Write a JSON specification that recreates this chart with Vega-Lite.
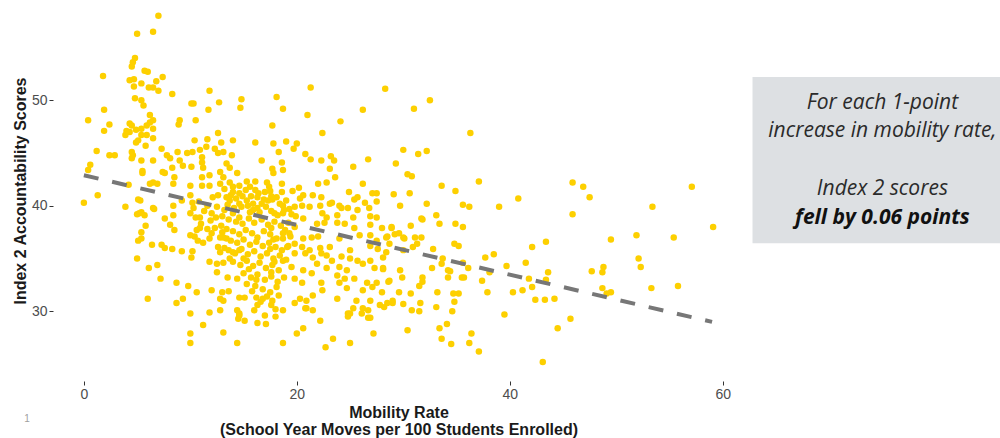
{"$schema":"https://vega.github.io/schema/vega-lite/v6.json","width":691,"height":381,"autosize":{"type":"none"},"padding":{"left":53,"top":0,"right":256,"bottom":57},"background":"#ffffff","config":{"view":{"stroke":null},"axis":{"grid":false,"domain":false,"tickColor":"#333333","tickSize":4,"tickWidth":1,"labelColor":"#4d4d4d","labelFont":"Liberation Sans","labelFontSize":14,"labelPadding":2,"titleFont":"Liberation Sans","titleFontSize":16,"titleFontWeight":"bold","titleColor":"#1a1a1a"}},
"datasets":{"fit":[{"mobility":0,"score":42.9},{"mobility":59,"score":29.0}],
"schools":[
{"mobility":0.0,"score":40.3},{"mobility":0.4,"score":43.4},{"mobility":0.6,"score":43.9},{"mobility":0.4,"score":48.1},{"mobility":1.2,"score":45.2},{"mobility":1.3,"score":41.0},{"mobility":1.8,"score":52.3},{"mobility":1.9,"score":49.1},{"mobility":1.9,"score":47.1},{"mobility":2.4,"score":47.7},{"mobility":2.4,"score":44.8},{"mobility":2.9,"score":44.8},{"mobility":3.9,"score":39.9},{"mobility":3.9,"score":46.7},{"mobility":4.0,"score":47.1},{"mobility":4.3,"score":47.8},{"mobility":4.5,"score":47.6},{"mobility":4.2,"score":42.0},{"mobility":4.5,"score":45.1},{"mobility":4.6,"score":44.8},{"mobility":4.5,"score":44.5},{"mobility":4.9,"score":46.0},{"mobility":4.9,"score":47.2},{"mobility":5.1,"score":46.2},{"mobility":5.1,"score":40.6},{"mobility":5.2,"score":39.3},{"mobility":5.0,"score":39.2},{"mobility":5.1,"score":36.7},{"mobility":5.0,"score":35.0},{"mobility":5.4,"score":46.7},{"mobility":5.4,"score":47.3},{"mobility":5.4,"score":44.3},{"mobility":5.5,"score":43.3},{"mobility":5.4,"score":39.4},{"mobility":5.3,"score":40.5},{"mobility":5.4,"score":36.9},{"mobility":5.4,"score":37.5},{"mobility":5.5,"score":43.1},
{"mobility":7.0,"score":58.0},{"mobility":5.0,"score":56.3},{"mobility":6.5,"score":56.5},{"mobility":4.6,"score":53.6},{"mobility":4.8,"score":54.0},{"mobility":4.5,"score":53.2},{"mobility":5.7,"score":52.8},{"mobility":6.0,"score":52.7},{"mobility":4.3,"score":51.9},{"mobility":4.7,"score":52.0},{"mobility":5.4,"score":51.6},{"mobility":6.8,"score":51.8},{"mobility":7.4,"score":52.2},{"mobility":4.7,"score":51.3},{"mobility":6.1,"score":51.2},{"mobility":6.5,"score":51.2},{"mobility":7.0,"score":50.9},{"mobility":8.3,"score":50.6},{"mobility":4.8,"score":50.2},{"mobility":5.4,"score":50.0},{"mobility":5.6,"score":49.5},{"mobility":6.2,"score":48.6},{"mobility":6.5,"score":48.1},{"mobility":6.5,"score":47.3},{"mobility":5.9,"score":47.6},{"mobility":6.2,"score":47.9},{"mobility":5.8,"score":45.7},{"mobility":5.9,"score":46.7},{"mobility":4.3,"score":47.0},{"mobility":6.5,"score":46.4},{"mobility":6.5,"score":44.3},{"mobility":6.2,"score":42.1},{"mobility":6.5,"score":42.2},{"mobility":6.9,"score":42.1},{"mobility":6.6,"score":39.7},{"mobility":5.7,"score":39.1},{"mobility":6.5,"score":39.8},{"mobility":5.8,"score":38.1},{"mobility":6.4,"score":36.3},{"mobility":6.1,"score":34.1},{"mobility":6.9,"score":34.4},{"mobility":7.2,"score":33.1},{"mobility":6.0,"score":31.2},{"mobility":7.3,"score":36.3},{"mobility":7.6,"score":36.0},{"mobility":8.3,"score":35.9},{"mobility":9.2,"score":35.7},{"mobility":8.7,"score":32.7},{"mobility":9.8,"score":32.4},{"mobility":8.7,"score":30.8},{"mobility":9.3,"score":31.2},
{"mobility":11.8,"score":50.9},{"mobility":10.1,"score":49.7},{"mobility":10.3,"score":49.7},{"mobility":12.7,"score":49.8},{"mobility":14.8,"score":50.1},{"mobility":14.7,"score":49.3},{"mobility":18.1,"score":50.3},{"mobility":18.7,"score":49.2},{"mobility":21.3,"score":51.2},{"mobility":28.3,"score":51.1},{"mobility":26.2,"score":49.1},{"mobility":21.0,"score":48.6},{"mobility":24.1,"score":48.0},{"mobility":22.4,"score":46.9},{"mobility":9.0,"score":48.1},{"mobility":8.9,"score":47.7},{"mobility":10.5,"score":48.1},{"mobility":11.7,"score":49.1},{"mobility":12.6,"score":46.9},{"mobility":17.7,"score":47.6},{"mobility":16.1,"score":46.0},{"mobility":19.0,"score":46.1},{"mobility":20.0,"score":45.9},{"mobility":19.7,"score":45.4},{"mobility":18.3,"score":45.1},{"mobility":17.8,"score":45.9},{"mobility":20.8,"score":44.9},{"mobility":21.3,"score":44.4},{"mobility":22.3,"score":44.3},{"mobility":23.2,"score":44.7},{"mobility":23.5,"score":44.3},{"mobility":25.3,"score":43.7},{"mobility":26.7,"score":44.4},{"mobility":18.6,"score":44.1},{"mobility":17.7,"score":43.5},{"mobility":18.7,"score":43.4},{"mobility":17.8,"score":43.1},{"mobility":23.1,"score":43.5},{"mobility":23.6,"score":42.7},{"mobility":22.8,"score":42.2},{"mobility":22.0,"score":42.1},{"mobility":18.6,"score":42.1},{"mobility":26.2,"score":42.1},{"mobility":17.5,"score":41.4},{"mobility":18.6,"score":41.3},{"mobility":19.6,"score":41.4},{"mobility":20.2,"score":41.7},{"mobility":24.9,"score":41.3},{"mobility":27.1,"score":41.2},{"mobility":27.5,"score":41.2},{"mobility":17.6,"score":40.9},{"mobility":17.7,"score":40.6},{"mobility":20.3,"score":40.7},{"mobility":20.6,"score":41.0},{"mobility":21.5,"score":41.0},{"mobility":22.3,"score":40.8},{"mobility":23.3,"score":40.3},{"mobility":24.0,"score":40.0},{"mobility":25.7,"score":40.8},{"mobility":25.4,"score":40.6},{"mobility":26.4,"score":40.3},{"mobility":27.5,"score":40.4},{"mobility":18.7,"score":40.0},{"mobility":19.8,"score":39.9},{"mobility":20.5,"score":40.0},{"mobility":21.2,"score":39.9},{"mobility":22.2,"score":40.0},{"mobility":23.1,"score":40.2},{"mobility":24.2,"score":39.8},{"mobility":24.8,"score":39.8},{"mobility":25.7,"score":39.6},{"mobility":26.8,"score":39.8},{"mobility":17.9,"score":39.3},{"mobility":18.7,"score":39.3},{"mobility":19.9,"score":39.0},{"mobility":20.6,"score":38.8},{"mobility":22.4,"score":39.3},{"mobility":22.8,"score":38.9},{"mobility":23.8,"score":39.1},{"mobility":25.3,"score":38.9},{"mobility":26.9,"score":39.0},{"mobility":27.5,"score":38.9},
{"mobility":10.4,"score":46.2},{"mobility":11.6,"score":46.3},{"mobility":12.9,"score":46.0},{"mobility":14.0,"score":46.2},{"mobility":7.3,"score":45.4},{"mobility":8.8,"score":45.1},{"mobility":9.7,"score":45.0},{"mobility":10.2,"score":45.1},{"mobility":10.9,"score":45.3},{"mobility":11.5,"score":45.6},{"mobility":12.3,"score":45.4},{"mobility":12.6,"score":45.0},{"mobility":13.1,"score":45.1},{"mobility":13.9,"score":44.8},{"mobility":7.8,"score":44.8},{"mobility":8.1,"score":44.5},{"mobility":9.0,"score":44.3},{"mobility":11.1,"score":44.6},{"mobility":11.1,"score":44.1},{"mobility":16.7,"score":44.3},{"mobility":13.4,"score":44.0},{"mobility":13.7,"score":43.6},{"mobility":12.8,"score":43.2},{"mobility":11.2,"score":43.6},{"mobility":10.1,"score":43.7},{"mobility":9.3,"score":43.8},{"mobility":8.3,"score":43.6},{"mobility":7.6,"score":43.1},{"mobility":7.4,"score":43.2},{"mobility":11.1,"score":42.7},{"mobility":11.8,"score":42.9},{"mobility":14.4,"score":43.1},{"mobility":15.3,"score":42.3},{"mobility":16.1,"score":42.3},{"mobility":17.2,"score":42.2},{"mobility":8.5,"score":42.7},{"mobility":8.4,"score":42.1},{"mobility":10.0,"score":41.9},{"mobility":11.1,"score":41.9},{"mobility":11.8,"score":41.9},{"mobility":12.8,"score":42.1},{"mobility":13.1,"score":42.7},{"mobility":13.7,"score":42.2},{"mobility":14.0,"score":41.8},{"mobility":14.6,"score":41.9},{"mobility":14.0,"score":41.3},{"mobility":14.6,"score":41.2},{"mobility":13.4,"score":40.8},{"mobility":13.7,"score":40.5},{"mobility":15.6,"score":41.8},{"mobility":16.1,"score":41.5},{"mobility":16.3,"score":40.8},{"mobility":17.0,"score":41.3},{"mobility":16.7,"score":40.2},{"mobility":17.3,"score":40.5},{"mobility":15.9,"score":40.2},{"mobility":15.3,"score":40.5},{"mobility":14.6,"score":40.2},{"mobility":10.0,"score":41.0},{"mobility":9.2,"score":40.5},{"mobility":10.2,"score":40.3},{"mobility":12.1,"score":40.8},{"mobility":12.6,"score":41.0},{"mobility":11.6,"score":40.0},{"mobility":12.5,"score":39.9},{"mobility":13.2,"score":39.6},{"mobility":14.0,"score":39.3},{"mobility":14.6,"score":38.9},{"mobility":15.6,"score":39.4},{"mobility":16.3,"score":39.8},{"mobility":8.4,"score":40.0},{"mobility":10.0,"score":39.3},{"mobility":10.9,"score":38.9},{"mobility":12.0,"score":39.3},{"mobility":8.4,"score":39.1},{"mobility":7.6,"score":38.8},
{"mobility":8.1,"score":38.2},{"mobility":8.5,"score":37.7},{"mobility":10.0,"score":37.2},{"mobility":10.6,"score":37.7},{"mobility":10.4,"score":37.1},{"mobility":10.7,"score":36.7},{"mobility":11.2,"score":36.5},{"mobility":12.0,"score":37.4},{"mobility":11.8,"score":36.9},{"mobility":12.8,"score":37.0},{"mobility":13.0,"score":37.5},{"mobility":13.4,"score":36.9},{"mobility":10.2,"score":35.7},{"mobility":10.1,"score":35.1},{"mobility":12.6,"score":36.1},{"mobility":13.2,"score":36.0},{"mobility":12.8,"score":35.6},{"mobility":14.0,"score":35.6},{"mobility":14.6,"score":35.8},{"mobility":13.7,"score":35.0},{"mobility":13.1,"score":34.6},{"mobility":11.8,"score":34.7},{"mobility":12.5,"score":34.5},{"mobility":12.5,"score":33.7},{"mobility":13.5,"score":33.2},{"mobility":12.0,"score":32.0},{"mobility":13.0,"score":31.8},{"mobility":13.6,"score":31.9},{"mobility":13.1,"score":31.0},{"mobility":12.8,"score":31.2},{"mobility":10.6,"score":31.8},{"mobility":14.6,"score":31.3},{"mobility":15.1,"score":31.3},{"mobility":16.2,"score":31.3},{"mobility":16.8,"score":31.2},{"mobility":12.8,"score":30.1},{"mobility":14.4,"score":30.1},{"mobility":14.6,"score":29.6},{"mobility":16.3,"score":30.6},
{"mobility":10.0,"score":29.8},{"mobility":10.0,"score":27.0},{"mobility":10.0,"score":27.9},{"mobility":11.2,"score":28.7},{"mobility":11.8,"score":29.9},{"mobility":13.1,"score":28.0},{"mobility":14.4,"score":27.0},{"mobility":14.6,"score":29.8},{"mobility":14.5,"score":29.3},{"mobility":15.1,"score":29.1},{"mobility":16.3,"score":28.9},{"mobility":17.1,"score":28.8},{"mobility":18.7,"score":27.0},{"mobility":20.0,"score":27.9},{"mobility":18.7,"score":30.1},{"mobility":20.6,"score":28.4},{"mobility":20.9,"score":30.3},{"mobility":22.2,"score":29.1},{"mobility":22.7,"score":26.6},{"mobility":23.4,"score":27.4},{"mobility":25.0,"score":27.0},{"mobility":24.8,"score":29.8},{"mobility":26.1,"score":29.8},{"mobility":26.7,"score":29.4},{"mobility":27.2,"score":27.9},{"mobility":27.8,"score":30.6},
{"mobility":21.9,"score":38.3},{"mobility":22.6,"score":38.4},{"mobility":23.8,"score":38.4},{"mobility":24.5,"score":38.3},{"mobility":25.4,"score":37.9},{"mobility":26.9,"score":38.2},{"mobility":28.0,"score":37.9},{"mobility":28.9,"score":37.9},{"mobility":18.9,"score":37.7},{"mobility":19.3,"score":37.4},{"mobility":18.7,"score":36.9},{"mobility":19.8,"score":36.4},{"mobility":20.6,"score":36.9},{"mobility":21.4,"score":37.0},{"mobility":22.0,"score":37.1},{"mobility":19.1,"score":36.1},{"mobility":20.5,"score":36.1},{"mobility":21.2,"score":35.8},{"mobility":19.8,"score":35.5},{"mobility":20.8,"score":35.5},{"mobility":22.2,"score":36.0},{"mobility":23.1,"score":36.1},{"mobility":24.0,"score":36.9},{"mobility":25.0,"score":35.8},{"mobility":25.9,"score":37.2},{"mobility":26.9,"score":37.2},{"mobility":27.5,"score":36.7},{"mobility":28.5,"score":37.1},{"mobility":26.9,"score":36.2},{"mobility":27.6,"score":35.9},{"mobility":28.4,"score":35.6},{"mobility":21.5,"score":35.1},{"mobility":22.3,"score":35.5},{"mobility":22.8,"score":35.3},{"mobility":23.3,"score":34.8},{"mobility":24.2,"score":35.2},{"mobility":25.0,"score":35.0},{"mobility":25.7,"score":34.8},{"mobility":24.0,"score":34.2},{"mobility":24.7,"score":33.9},{"mobility":26.2,"score":34.5},{"mobility":26.9,"score":34.8},{"mobility":27.3,"score":34.1},{"mobility":28.1,"score":34.0},{"mobility":28.7,"score":32.9},{"mobility":27.5,"score":32.7},{"mobility":26.6,"score":32.7},{"mobility":25.4,"score":33.1},{"mobility":24.5,"score":33.1},{"mobility":23.8,"score":33.4},{"mobility":22.8,"score":34.1},{"mobility":21.9,"score":34.5},{"mobility":21.4,"score":33.6},{"mobility":20.6,"score":33.9},{"mobility":19.5,"score":34.2},{"mobility":18.7,"score":34.8},{"mobility":19.8,"score":33.1},{"mobility":20.5,"score":32.7},{"mobility":22.3,"score":32.7},{"mobility":24.0,"score":32.7},{"mobility":24.7,"score":32.2},{"mobility":26.2,"score":32.0},{"mobility":27.1,"score":32.3},{"mobility":28.0,"score":31.8},{"mobility":29.0,"score":31.0},{"mobility":28.5,"score":30.8},{"mobility":26.9,"score":31.0},{"mobility":25.6,"score":31.0},{"mobility":25.3,"score":30.3},{"mobility":26.2,"score":30.3},{"mobility":26.7,"score":30.1},{"mobility":25.0,"score":29.8},{"mobility":23.8,"score":31.2},{"mobility":22.4,"score":32.0},{"mobility":21.5,"score":31.5},{"mobility":20.9,"score":31.0},{"mobility":20.3,"score":31.2},{"mobility":19.8,"score":30.8},{"mobility":21.5,"score":30.1},{"mobility":20.8,"score":30.3},{"mobility":26.9,"score":29.4},{"mobility":24.8,"score":29.5},
{"mobility":13.2,"score":41.6},{"mobility":13.8,"score":41.0},{"mobility":14.3,"score":40.7},{"mobility":14.9,"score":40.9},{"mobility":15.2,"score":41.5},{"mobility":15.7,"score":40.9},{"mobility":16.4,"score":41.2},{"mobility":16.9,"score":40.6},{"mobility":17.4,"score":41.8},{"mobility":18.1,"score":40.8},{"mobility":18.4,"score":40.2},{"mobility":19.0,"score":40.5},{"mobility":19.3,"score":39.7},{"mobility":13.5,"score":40.1},{"mobility":14.1,"score":39.8},{"mobility":14.8,"score":39.9},{"mobility":15.4,"score":40.0},{"mobility":15.9,"score":39.6},{"mobility":16.5,"score":39.4},{"mobility":17.1,"score":39.9},{"mobility":17.6,"score":39.5},{"mobility":18.2,"score":39.1},{"mobility":18.8,"score":39.6},{"mobility":19.5,"score":39.2},{"mobility":13.0,"score":39.0},{"mobility":13.6,"score":38.7},{"mobility":14.3,"score":38.5},{"mobility":14.9,"score":38.3},{"mobility":15.5,"score":38.8},{"mobility":16.0,"score":38.4},{"mobility":16.7,"score":38.7},{"mobility":17.3,"score":38.2},{"mobility":17.9,"score":38.5},{"mobility":18.5,"score":38.1},{"mobility":19.2,"score":38.4},{"mobility":19.8,"score":38.0},{"mobility":12.9,"score":38.1},{"mobility":13.4,"score":37.8},{"mobility":14.0,"score":37.6},{"mobility":14.6,"score":37.3},{"mobility":15.2,"score":37.7},{"mobility":15.8,"score":37.4},{"mobility":16.3,"score":37.0},{"mobility":16.9,"score":37.6},{"mobility":17.5,"score":37.3},{"mobility":18.1,"score":36.9},{"mobility":18.7,"score":37.4},{"mobility":19.4,"score":37.1},{"mobility":13.1,"score":37.0},{"mobility":13.8,"score":36.7},{"mobility":14.4,"score":36.5},{"mobility":15.0,"score":36.8},{"mobility":15.6,"score":36.3},{"mobility":16.2,"score":36.6},{"mobility":16.8,"score":36.2},{"mobility":17.4,"score":36.5},{"mobility":18.0,"score":36.1},{"mobility":18.6,"score":35.8},{"mobility":19.2,"score":36.2},{"mobility":13.6,"score":35.8},{"mobility":14.2,"score":35.5},{"mobility":14.8,"score":35.9},{"mobility":15.4,"score":35.4},{"mobility":16.0,"score":35.7},{"mobility":16.6,"score":35.2},{"mobility":17.2,"score":35.5},{"mobility":17.8,"score":35.0},{"mobility":18.4,"score":35.3},{"mobility":19.0,"score":34.9},{"mobility":14.0,"score":34.7},{"mobility":14.7,"score":34.4},{"mobility":15.3,"score":34.8},{"mobility":15.9,"score":34.3},{"mobility":16.5,"score":34.6},{"mobility":17.1,"score":34.1},{"mobility":17.7,"score":34.4},{"mobility":18.3,"score":33.9},{"mobility":15.0,"score":33.6},{"mobility":15.7,"score":33.2},{"mobility":16.3,"score":33.5},{"mobility":17.0,"score":33.0},{"mobility":17.6,"score":33.3},{"mobility":18.2,"score":32.8},{"mobility":18.8,"score":33.2},{"mobility":16.1,"score":32.4},{"mobility":16.8,"score":32.1},{"mobility":17.5,"score":31.8},{"mobility":15.3,"score":32.6},{"mobility":14.4,"score":33.1},{"mobility":10.3,"score":39.8},{"mobility":10.8,"score":40.4},{"mobility":11.3,"score":39.5},{"mobility":11.9,"score":38.6},{"mobility":12.4,"score":38.9},{"mobility":11.0,"score":38.3},{"mobility":10.5,"score":38.9},{"mobility":12.3,"score":37.9},{"mobility":11.6,"score":37.8},{"mobility":10.9,"score":37.9},{"mobility":15.0,"score":35.0},{"mobility":15.5,"score":34.0},{"mobility":16.2,"score":33.0},{"mobility":15.8,"score":31.9},{"mobility":16.6,"score":30.9},{"mobility":17.2,"score":31.4},{"mobility":16.0,"score":30.1},{"mobility":17.6,"score":30.6},{"mobility":18.3,"score":31.5},{"mobility":18.0,"score":30.2},{"mobility":17.0,"score":29.6},{"mobility":17.6,"score":37.9},{"mobility":17.8,"score":36.8},{"mobility":17.5,"score":35.9},{"mobility":17.9,"score":34.7},{"mobility":17.6,"score":33.7},{"mobility":18.1,"score":32.3},{"mobility":17.7,"score":31.0},{"mobility":18.0,"score":29.5},
{"mobility":31.0,"score":49.2},{"mobility":32.5,"score":50.0},{"mobility":36.3,"score":46.9},{"mobility":30.0,"score":45.3},{"mobility":31.4,"score":44.9},{"mobility":32.2,"score":45.2},{"mobility":29.3,"score":44.0},{"mobility":30.4,"score":43.0},{"mobility":30.8,"score":42.8},{"mobility":33.6,"score":41.9},{"mobility":34.9,"score":41.4},{"mobility":37.1,"score":42.3},{"mobility":29.1,"score":41.1},{"mobility":30.6,"score":41.2},{"mobility":29.7,"score":40.0},{"mobility":32.2,"score":40.2},{"mobility":33.1,"score":39.1},{"mobility":35.6,"score":40.1},{"mobility":36.2,"score":39.9},{"mobility":39.0,"score":39.9},{"mobility":40.8,"score":40.7},{"mobility":45.9,"score":42.2},{"mobility":46.9,"score":41.8},{"mobility":47.5,"score":40.8},{"mobility":45.9,"score":39.2},{"mobility":53.4,"score":39.9},{"mobility":57.1,"score":41.8},{"mobility":31.7,"score":38.8},{"mobility":59.1,"score":38.0},{"mobility":55.4,"score":37.0},{"mobility":51.9,"score":37.2},{"mobility":49.5,"score":36.8},{"mobility":52.1,"score":35.0},{"mobility":52.3,"score":34.2},{"mobility":47.7,"score":33.8},{"mobility":48.8,"score":34.2},{"mobility":48.7,"score":33.7},{"mobility":48.7,"score":32.2},{"mobility":49.5,"score":31.8},{"mobility":49.1,"score":31.7},{"mobility":53.3,"score":32.2},{"mobility":55.8,"score":32.4},{"mobility":45.7,"score":29.3},{"mobility":44.5,"score":28.4},{"mobility":43.1,"score":25.2},{"mobility":43.4,"score":36.6},{"mobility":42.1,"score":36.1},{"mobility":41.5,"score":34.6},{"mobility":43.6,"score":33.7},{"mobility":41.8,"score":33.1},{"mobility":43.4,"score":33.0},{"mobility":42.1,"score":32.3},{"mobility":41.2,"score":32.0},{"mobility":42.4,"score":31.1},{"mobility":43.3,"score":31.1},{"mobility":44.2,"score":31.2},{"mobility":39.7,"score":34.3},{"mobility":40.3,"score":31.8},{"mobility":39.5,"score":29.7},{"mobility":38.5,"score":35.4},{"mobility":37.7,"score":35.1},{"mobility":38.1,"score":33.7},{"mobility":37.4,"score":32.9},{"mobility":37.9,"score":31.8},{"mobility":35.6,"score":34.6},{"mobility":36.1,"score":34.1},{"mobility":35.5,"score":33.2},{"mobility":35.7,"score":33.2},{"mobility":34.7,"score":31.7},{"mobility":35.2,"score":31.7},{"mobility":34.8,"score":30.9},{"mobility":34.6,"score":30.0},{"mobility":34.2,"score":33.9},{"mobility":34.2,"score":33.2},{"mobility":33.7,"score":35.0},{"mobility":33.6,"score":34.5},{"mobility":32.7,"score":34.1},{"mobility":33.2,"score":31.8},{"mobility":33.1,"score":30.4},{"mobility":33.4,"score":28.4},{"mobility":34.1,"score":28.8},{"mobility":33.6,"score":27.4},{"mobility":34.5,"score":26.9},{"mobility":36.4,"score":27.9},{"mobility":36.2,"score":27.0},{"mobility":37.1,"score":26.2},{"mobility":30.4,"score":28.2},{"mobility":31.6,"score":30.8},{"mobility":31.5,"score":30.0},{"mobility":30.8,"score":30.1},{"mobility":30.0,"score":30.7},{"mobility":29.0,"score":30.8},{"mobility":28.2,"score":30.4},{"mobility":30.7,"score":31.7},{"mobility":29.6,"score":31.8},{"mobility":31.8,"score":32.8},{"mobility":31.8,"score":33.2},{"mobility":31.5,"score":32.4},{"mobility":29.9,"score":33.2},{"mobility":29.7,"score":33.9},{"mobility":28.6,"score":32.8},{"mobility":28.1,"score":34.1},{"mobility":28.1,"score":35.1},{"mobility":30.0,"score":35.8},{"mobility":30.9,"score":36.1},{"mobility":31.3,"score":36.4},{"mobility":31.7,"score":37.0},{"mobility":31.1,"score":37.0},{"mobility":32.8,"score":35.9},{"mobility":34.8,"score":36.4},{"mobility":35.2,"score":36.2},{"mobility":30.7,"score":38.1},{"mobility":31.8,"score":38.7},{"mobility":33.4,"score":38.3},{"mobility":34.9,"score":38.3},{"mobility":35.6,"score":38.0},{"mobility":28.9,"score":38.0},{"mobility":28.4,"score":37.0},{"mobility":29.2,"score":37.3},{"mobility":29.6,"score":37.4},{"mobility":30.0,"score":37.0},{"mobility":28.7,"score":36.4},{"mobility":30.1,"score":36.9},{"mobility":34.4,"score":33.8}
]},
"layer":[
{"data":{"values":[{}]},"mark":{"type":"rect","color":"#dde0e3"},"encoding":{"x":{"datum":62.8,"type":"quantitative"},"x2":{"datum":87},"y":{"datum":52.2,"type":"quantitative"},"y2":{"datum":36.45}}},
{"data":{"name":"schools"},"mark":{"type":"circle","size":42,"opacity":1,"color":"#fdd000"},"encoding":{"x":{"field":"mobility","type":"quantitative","scale":{"domain":[-2.9,62],"nice":false,"zero":false},"title":["Mobility Rate","(School Year Moves per 100 Students Enrolled)"],"axis":{"values":[0,20,40,60],"titlePadding":3,"titleLineHeight":17}},"y":{"field":"score","type":"quantitative","scale":{"domain":[23.4,59.5],"nice":false,"zero":false},"title":"Index 2 Accountability Scores","axis":{"values":[30,40,50],"titlePadding":3}}}},
{"data":{"name":"fit"},"mark":{"type":"line","color":"#777777","strokeWidth":4,"strokeDash":[15,14]},"encoding":{"x":{"field":"mobility","type":"quantitative"},"y":{"field":"score","type":"quantitative"}}},
{"data":{"values":[{}]},"mark":{"type":"text","font":"Open Sans","fontStyle":"italic","fontSize":21,"color":"#2b2b2b","align":"center","baseline":"middle"},"encoding":{"x":{"datum":75,"type":"quantitative"},"y":{"datum":49.72,"type":"quantitative"},"text":{"value":"For each 1-point"}}},
{"data":{"values":[{}]},"mark":{"type":"text","font":"Open Sans","fontStyle":"italic","fontSize":21,"color":"#2b2b2b","align":"center","baseline":"middle"},"encoding":{"x":{"datum":75,"type":"quantitative"},"y":{"datum":47.06,"type":"quantitative"},"text":{"value":"increase in mobility rate,"}}},
{"data":{"values":[{}]},"mark":{"type":"text","font":"Open Sans","fontStyle":"italic","fontSize":21,"color":"#2b2b2b","align":"center","baseline":"middle"},"encoding":{"x":{"datum":75,"type":"quantitative"},"y":{"datum":41.55,"type":"quantitative"},"text":{"value":"Index 2 scores"}}},
{"data":{"values":[{}]},"mark":{"type":"text","font":"Open Sans","fontStyle":"italic","fontWeight":"bold","fontSize":21,"color":"#111111","align":"center","baseline":"middle"},"encoding":{"x":{"datum":75,"type":"quantitative"},"y":{"datum":38.85,"type":"quantitative"},"text":{"value":"fell by 0.06 points"}}},
{"data":{"values":[{}]},"mark":{"type":"text","font":"Liberation Sans","fontSize":10,"color":"#a0a0a0","align":"center","baseline":"middle"},"encoding":{"x":{"datum":-5.35,"type":"quantitative"},"y":{"datum":19.8,"type":"quantitative"},"text":{"value":"1"}}}
]}
